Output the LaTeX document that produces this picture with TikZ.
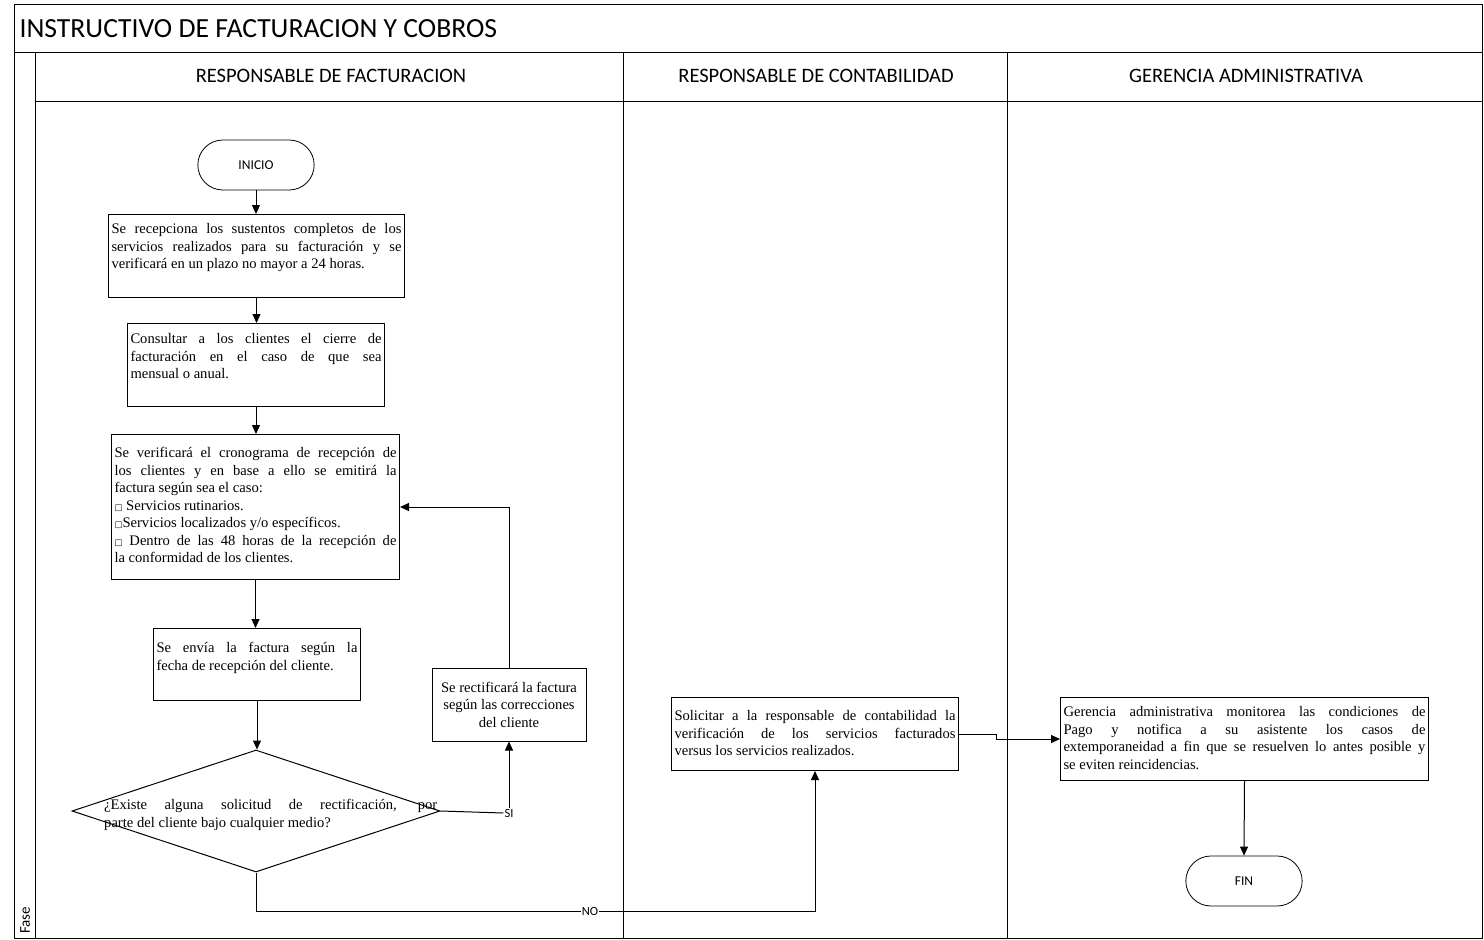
\documentclass[tikz,border=0pt]{standalone}
\usepackage{fontspec}
\setmainfont{Liberation Serif}
\newfontfamily\calibri{Carlito}
\newfontfamily\symfont{DejaVu Sans}
\usetikzlibrary{arrows.meta,shapes.geometric,shapes.misc}
\tikzset{lane/.style={line width=1pt},paso/.style={draw,line width=1pt,inner xsep=3pt,inner ysep=4pt,anchor=north west,font=\fontsize{14.6}{17.5}\selectfont},term/.style={draw,rounded rectangle,line width=.8pt,minimum width=123pt,minimum height=50pt,font=\calibri\fontsize{13.5}{15}\selectfont},decision/.style={diamond,draw,line width=1pt,inner sep=0pt,minimum width=368pt,minimum height=122pt},flow/.style={-{Triangle[length=9pt,width=8pt]},line width=1pt},rot/.style={font=\calibri\fontsize{12.5}{14}\selectfont,inner sep=1pt},head/.style={font=\calibri\fontsize{20.5}{24}\selectfont}}
% caja de texto arriba: [desplazamiento]{ancho}{alto}{texto}
\newcommand{\caja}[4][0pt]{\parbox[c][#3][t]{#2}{\vspace*{#1}#4}}
\newcommand{\cuad}{{\symfont\fontsize{8.5}{8.5}\selectfont □}}
\begin{document}
\begin{tikzpicture}[x=1pt,y=-1pt]
      \useasboundingbox (0,0) rectangle (1484,940);
      % marco y carriles
      \draw[lane] (14,4) rectangle (1482,938);
      \draw[lane] (14,52)--(1482,52);\draw[lane] (35,101)--(1482,101);
      \draw[lane] (35,52)--(35,938);\draw[lane] (623,52)--(623,938);\draw[lane] (1007,52)--(1007,938);
      \node[anchor=west,font=\calibri\fontsize{27.7}{30}\selectfont](tit) at (16,29){INSTRUCTIVO DE FACTURACION Y COBROS};
      \node[head](hfac) at (331,76){RESPONSABLE DE FACTURACION};
      \node[head](hcon) at (816,76){RESPONSABLE DE CONTABILIDAD};
      \node[head](hger) at (1246,76){GERENCIA ADMINISTRATIVA};
      \node[rotate=90,anchor=west,inner sep=2pt,font=\calibri\fontsize{15}{17}\selectfont](fase) at (25,936){Fase};
      % facturacion
      \node[term](ini) at (256,165){INICIO};
      \node[paso](r1) at (108,214){\caja[5pt]{290pt}{75pt}{Se recepciona los sustentos completos de los\linebreak servicios realizados para su facturación y se\linebreak verificará en un plazo no mayor a 24 horas.}};
      \node[paso](r2) at (127,323){\caja[6pt]{251pt}{75pt}{Consultar a los clientes el cierre de\linebreak facturación en el caso de que sea\linebreak mensual o anual.}};
      \node[paso](r3) at (111,434){\caja[9pt]{282pt}{137pt}{Se verificará el cronograma de recepción de\linebreak los clientes y en base a ello se emitirá la\linebreak factura según sea el caso:\\\cuad{} Servicios rutinarios.\\\cuad{}Servicios localizados y/o específicos.\\\cuad{} Dentro de las 48 horas de la recepción de\linebreak la conformidad de los clientes.}};
      \node[paso](r4) at (153,628){\caja[10pt]{201pt}{64pt}{Se envía la factura según la\linebreak fecha de recepción del cliente.}};
      \node[draw,line width=1pt,align=center,minimum width=154pt,minimum height=73pt,font=\fontsize{14.6}{17.5}\selectfont](rect) at (509,704.5){Se rectificará la factura\\según las correcciones\\del cliente};
      \node[decision](dec) at (256,811){};
      \node[anchor=west,inner sep=0pt,font=\fontsize{14.6}{18}\selectfont](dectxt) at (104,815){\parbox{333pt}{¿Existe alguna solicitud de rectificación, por\linebreak parte del cliente bajo cualquier medio?}};
      % contabilidad y gerencia
      \node[paso](cont) at (671,697){\caja[9pt]{281pt}{65pt}{Solicitar a la responsable de contabilidad la\linebreak verificación de los servicios facturados\linebreak versus los servicios realizados.}};
      \node[paso](ger) at (1060,697){\caja[5pt]{362pt}{75pt}{Gerencia administrativa monitorea las condiciones de\linebreak Pago y notifica a su asistente los casos de\linebreak extemporaneidad a fin que se resuelven lo antes posible y\linebreak se eviten reincidencias.}};
      \node[term](fin) at (1244,881){FIN};
      \node[rot](si) at (509,813){SI};
      \node[rot,fill=white](no) at (590,911){NO};
      % conectores
      \draw[flow](ini.south)--(ini.south|-r1.north);
      \draw[flow](r1.south)--(r1.south|-r2.north);
      \draw[flow](r2.south)--(r2.south|-r3.north);
      \draw[flow](r3.south)--(r3.south|-r4.north);
      \draw[flow](r4.south)--(r4.south|-dec.north);
      \draw[lane](dec.east)--(si.west);\draw[flow](si.north)--(rect.south);
      \draw[flow](rect.north)|-(r3.east);
      \draw[lane](dec.south)|-(no.west);\draw[flow](no.east)-|(cont.south);
      \draw[flow](cont.east)--++(37,0)|-(ger.west);
      \draw[flow](ger.south)--(fin.north);
    \end{tikzpicture}
\end{document}
